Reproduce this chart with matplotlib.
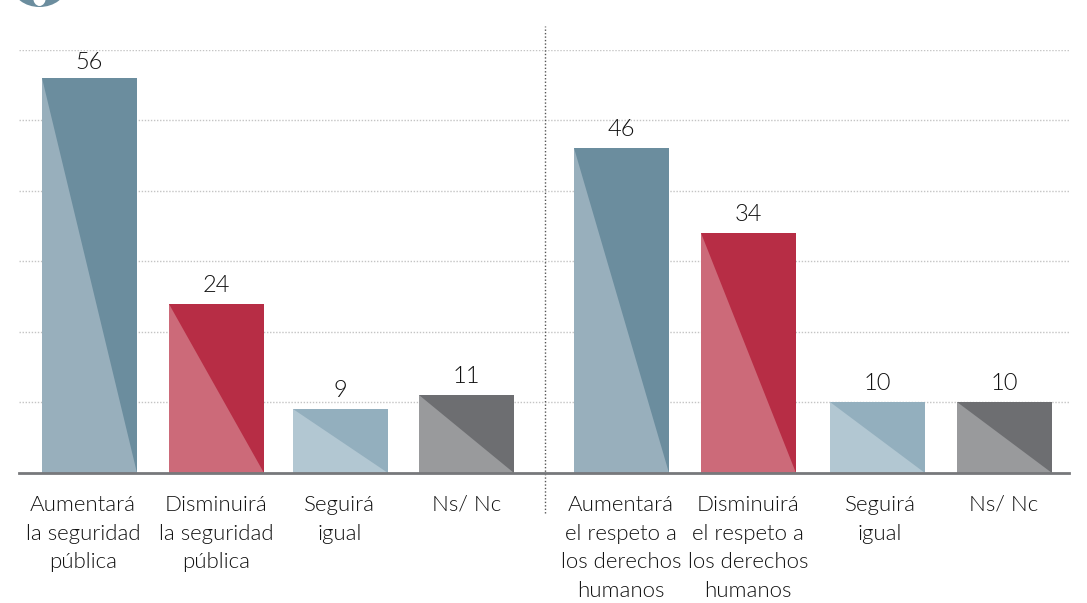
import matplotlib
matplotlib.use("Agg")
import matplotlib.pyplot as plt
from matplotlib.patches import Ellipse

labels = ["Aumentará\nla seguridad\npública", "Disminuirá\nla seguridad\npública", "Seguirá\nigual", "Ns/ Nc",
          "Aumentará\nel respeto a\nlos derechos\nhumanos", "Disminuirá\nel respeto a\nlos derechos\nhumanos", "Seguirá\nigual", "Ns/ Nc"]
values = [56, 24, 9, 11, 46, 34, 10, 10]
yticks = [10, 20, 30, 40, 50, 60]

dark = ["#6b8d9e", "#b72d45", "#93afbe", "#6d6e71", "#6b8d9e", "#b72d45", "#93afbe", "#6d6e71"]
light = ["#98afbc", "#cc6a79", "#b2c7d2", "#999a9c", "#98afbc", "#cc6a79", "#b2c7d2", "#999a9c"]

W, H = 1087, 603
plt.rcParams['font.family'] = ['Lato', 'DejaVu Sans']
plt.rcParams['font.weight'] = 300
fig = plt.figure(figsize=(W / 100, H / 100), dpi=100)
# axes box in pixels: x 19-1069, baseline y=472.7, value 60 at y=49.7
ax = fig.add_axes([19 / W, 1 - 472.7 / H, 1050 / W, 423 / H])
ax.set_xlim(19, 1069)
ax.set_ylim(0, 60)

xpos = [89.5, 216.5, 340.5, 466.5, 621.5, 748.5, 877.5, 1004.5]
labelx = [83, 216, 339.5, 467, 621, 748, 880, 1004]  # los textos no van centrados bajo todas las barras
bw = 95

for y in yticks:
    ax.axhline(y, color="#c4c4c4", lw=1, ls=(0, (1, 1.2)), zorder=1)

for x, lx, v, d, l, lab in zip(xpos, labelx, values, dark, light, labels):
    ax.bar(x, v, width=bw, color=d, zorder=2)
    ax.fill([x - bw / 2, x - bw / 2, x + bw / 2], [v, 0, 0], color=l, lw=0, zorder=3)
    # el 56 va mas pegado a la barra, como en el original
    off = 5 if v == 56 else 8
    ax.annotate(str(v), (x, v), xytext=(0, off), textcoords="offset pixels", ha="center", va="bottom",
                fontsize=17, color="#111111")
    ax.annotate(lab, (lx, 0), xytext=(0, -22), textcoords="offset pixels", ha="center", va="top",
                fontsize=16, color="#111111", linespacing=1.55, annotation_clip=False)

ax.axhline(0, color="#77787b", lw=2, zorder=4, clip_on=False)
# separador entre los dos bloques
ax.plot([545, 545], [-5.7, 63.3], color="#555555", lw=1, ls=(0, (1, 1.5)), clip_on=False, zorder=1)

for s in ax.spines.values():
    s.set_visible(False)
ax.set_xticks([])
ax.set_yticks([])
ax.patch.set_alpha(0)

# logo cortado arriba a la izquierda
logo = fig.add_axes([0, 0, 1, 1], zorder=-1)
logo.set_xlim(0, W)
logo.set_ylim(H, 0)
logo.axis("off")
logo.add_patch(Ellipse((39.5, -14), 54, 42, color="#6b8d9e", lw=0))
logo.add_patch(Ellipse((39.5, -3), 13, 18, color="white", lw=0))

fig.savefig("out.png", dpi=100)
